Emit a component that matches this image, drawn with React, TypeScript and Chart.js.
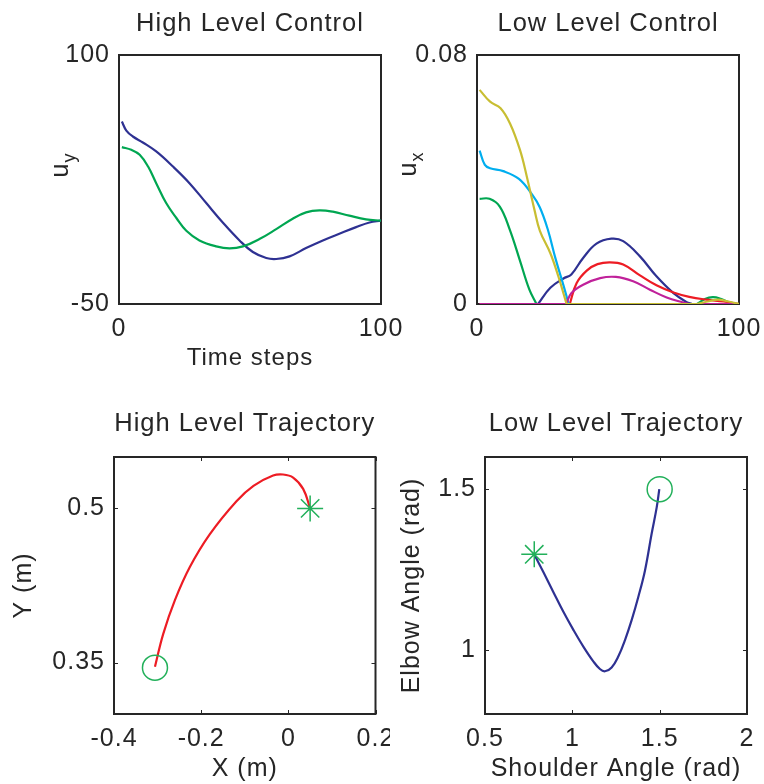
import React, { useEffect, useRef } from "react";
import { Chart, registerables } from "chart.js";
Chart.register(...registerables);

const FONT = '"Liberation Sans", Arial, Helvetica, sans-serif';
const TEXT = "#262626";
const BLUE = "#2e3192";
const GREEN = "#00a651";
const RED = "#ed1c24";
const CYAN = "#00aeef";
const MAGENTA = "#c0219a";
const OLIVE = "#c8be32";
const MARK = "#22b05a";

// ---------- High Level Control ----------
const hlcXTicks = [0, 100];
const hlcYTicks = [-50, 100];
const hlcBlue: number[][] = [
  [1.1, 59.9], [2.8, 54.5], [5.3, 50.9], [9.1, 47.3], [14.2, 41.9], [20.6, 32.8],
  [26.9, 22.8], [33.3, 10.8], [39.6, -0.9], [46, -11.7], [51.1, -18.7],
  [56.2, -22.3], [60, -22.9], [65.1, -21.3], [71.4, -16.3], [77.8, -11.7],
  [84.1, -7.7], [90.5, -3.7], [95.6, -0.9], [100, 0.2],
];
const hlcGreen: number[][] = [
  [1.1, 44.5], [4.7, 42.9], [7.9, 39.9], [11.1, 32.8], [14.2, 22.8], [18, 10.8],
  [21.9, 1.8], [25.7, -5.9], [30.7, -11.7], [37.1, -15.3], [42.2, -16.5],
  [47.3, -15.3], [53.6, -10.9], [60, -4.9], [66.3, 1.4], [71.4, 5.2],
  [76.5, 6.4], [81.6, 5.6], [87.9, 3.2], [94.3, 1], [100, 0.2],
];

// ---------- Low Level Control ----------
const llcXTicks = [0, 100];
const llcYTicks = [0, 0.08];
const llcBlue: number[][] = [
  [1, 0], [23.3, 0], [28, 0.0052], [33, 0.0082], [36, 0.0095], [40.5, 0.0148],
  [45.6, 0.0194], [51.3, 0.021], [55.8, 0.0202], [62.2, 0.0153], [68.5, 0.0089],
  [75, 0.0035], [80, 0.0006], [82, 0], [100, 0],
];
const llcGreen: number[][] = [
  [1, 0.0338], [4.8, 0.0338], [8.7, 0.0313], [12.5, 0.0239], [16.3, 0.0142],
  [20, 0.0046], [22.7, 0], [84, 0], [87, 0.0016], [90, 0.0022], [93, 0.0017],
  [96, 0.0006], [99, 0], [100, 0],
];
const llcRed: number[][] = [
  [1, 0], [35.4, 0], [38, 0.0067], [42, 0.0108], [46, 0.0128], [50.7, 0.0134],
  [55.8, 0.0127], [62.2, 0.0092], [68.5, 0.0060], [75, 0.0037], [81, 0.0023],
  [87.6, 0.0014], [94, 0.0008], [100, 0],
];
const llcCyan: number[][] = [
  [1, 0.0493], [3, 0.0447], [5, 0.0436], [10, 0.0427], [16, 0.0402], [21, 0.0352],
  [24, 0.031], [27, 0.024], [30, 0.0145], [33, 0.006], [35, 0], [100, 0],
];
const llcMagenta: number[][] = [
  [1, 0], [34, 0], [36, 0.0035], [40.5, 0.0062], [47, 0.0083], [53, 0.0087],
  [59.6, 0.0073], [66, 0.0046], [72.4, 0.0021], [78.7, 0.0005], [81, 0], [100, 0],
];
const llcOlive: number[][] = [
  [1, 0.0688], [5, 0.065], [9, 0.0629], [12.6, 0.058], [16.4, 0.0495], [19, 0.041],
  [22, 0.03], [24, 0.0235], [28, 0.0163], [31, 0.009], [34.2, 0], [84, 0],
  [88, 0.0008], [92, 0.0014], [96, 0.0008], [100, 0],
];

// ---------- High Level Trajectory ----------
const hltXTicks = [-0.4, -0.2, 0, 0.2];
const hltXLabels = ["-0.4", "-0.2", "0", "0.2"];
const hltYTicks = [0.35, 0.5];
const hltYLabels = ["0.35", "0.5"];
const hltPath: number[][] = [
  [-0.306, 0.346], [-0.287, 0.378], [-0.26, 0.411], [-0.226, 0.443],
  [-0.18, 0.475], [-0.119, 0.507], [-0.08, 0.522], [-0.035, 0.532],
  [-0.012, 0.533], [0.011, 0.53], [0.034, 0.519], [0.05, 0.5],
];
const hltStart = [-0.306, 0.345];
const hltGoal = [0.05, 0.5];

// ---------- Low Level Trajectory ----------
const lltXTicks = [0.5, 1, 1.5, 2];
const lltXLabels = ["0.5", "1", "1.5", "2"];
const lltYTicks = [1, 1.5];
const lltYLabels = ["1", "1.5"];
const lltPath: number[][] = [
  [0.782, 1.297], [0.834, 1.242], [0.891, 1.18], [0.948, 1.119], [1.006, 1.062],
  [1.063, 1.01], [1.12, 0.964], [1.158, 0.94], [1.187, 0.933], [1.225, 0.945],
  [1.263, 0.979], [1.302, 1.031], [1.34, 1.093], [1.378, 1.165], [1.416, 1.247],
  [1.454, 1.361], [1.483, 1.443], [1.498, 1.5],
];
const lltStart = [1.5, 1.5];
const lltGoal = [0.782, 1.297];

const toXY = (arr: number[][]) => arr.map((p) => ({ x: p[0], y: p[1] }));

const line = (data: number[][], color: string, order: number, tension = 0.4) => ({
  data: toXY(data),
  showLine: true,
  borderColor: color,
  backgroundColor: color,
  borderWidth: 2.2,
  pointRadius: 0,
  tension,
  order,
});

// Split a control series into flat (zero) runs drawn straight and
// non-zero lobes drawn as smooth curves, so the kinks at zero stay sharp.
const pieces = (data: number[][], color: string, order: number) => {
  const out: { pts: number[][]; flat: boolean }[] = [];
  let cur: number[][] = [data[0]];
  let flat: boolean | null = null;
  for (let i = 1; i < data.length; i++) {
    const isFlat = data[i - 1][1] === 0 && data[i][1] === 0;
    if (flat === null) flat = isFlat;
    if (isFlat !== flat) {
      out.push({ pts: cur, flat });
      cur = [data[i - 1]];
      flat = isFlat;
    }
    cur.push(data[i]);
  }
  out.push({ pts: cur, flat: !!flat });
  return out.map((p) => line(p.pts, color, order, p.flat ? 0 : 0.4));
};

const marker = (p: number[], style: string, radius: number) => ({
  data: [{ x: p[0], y: p[1] }],
  showLine: false,
  pointStyle: style,
  pointRadius: radius,
  borderColor: MARK,
  backgroundColor: "rgba(0,0,0,0)",
  pointBorderWidth: 1.5,
  borderWidth: 1.5,
  clip: false,
  order: -1,
});

const spacingPlugin = {
  id: "letterSpacing",
  beforeDraw(chart: any) {
    (chart.ctx as any).letterSpacing = "1px";
  },
};

const boxPlugin = {
  id: "matBox",
  beforeDatasetsDraw(chart: any) {
    const { ctx, chartArea: a, scales } = chart;
    ctx.save();
    ctx.strokeStyle = TEXT;
    ctx.lineWidth = 2;
    ctx.strokeRect(a.left, a.top, a.right - a.left, a.bottom - a.top);
    ctx.lineWidth = 1;
    const len = 4;
    ctx.beginPath();
    for (const t of scales.x.ticks) {
      const px = Math.round(scales.x.getPixelForValue(t.value)) + 0.5;
      ctx.moveTo(px, a.bottom);
      ctx.lineTo(px, a.bottom - len);
      ctx.moveTo(px, a.top);
      ctx.lineTo(px, a.top + len);
    }
    for (const t of scales.y.ticks) {
      const py = Math.round(scales.y.getPixelForValue(t.value)) + 0.5;
      ctx.moveTo(a.left, py);
      ctx.lineTo(a.left + len, py);
      ctx.moveTo(a.right, py);
      ctx.lineTo(a.right - len, py);
    }
    ctx.stroke();
    ctx.restore();
  },
};

const subLabelPlugin = {
  id: "subLabel",
  afterDraw(chart: any, _args: any, o: any) {
    if (!o || !o.main) return;
    const { ctx } = chart;
    ctx.save();
    ctx.fillStyle = TEXT;
    const mainFont = `${o.size}px ${FONT}`;
    const subFont = `${o.subSize}px ${FONT}`;
    ctx.font = mainFont;
    const wMain = ctx.measureText(o.main).width;
    ctx.font = subFont;
    const wSub = ctx.measureText(o.sub).width;
    const total = wMain + wSub;
    ctx.translate(o.x, o.y);
    ctx.rotate(-Math.PI / 2);
    ctx.textAlign = "left";
    ctx.textBaseline = "alphabetic";
    ctx.font = mainFont;
    ctx.fillText(o.main, -total / 2, 0);
    ctx.font = subFont;
    ctx.fillText(o.sub, -total / 2 + wMain, o.subDy);
    ctx.restore();
  },
};

type Spec = {
  canvas: { x: number; y: number; w: number; h: number };
  area: { l: number; t: number; r: number; b: number };
  title: string;
  titlePad: { top: number; bottom: number };
  xRange: [number, number];
  yRange: [number, number];
  xTicks: number[];
  xLabels: string[];
  yTicks: number[];
  yLabels: string[];
  xTitle?: string;
  xTitleSize?: number;
  xTitlePad?: number;
  yTitle?: string;
  yTitlePad?: number;
  sub?: any;
  datasets: any[];
};

function Panel({ spec }: { spec: Spec }) {
  const ref = useRef<HTMLCanvasElement>(null);
  useEffect(() => {
    const s = spec;
    const yWidth = s.area.l - s.canvas.x;
    const xHeight = s.canvas.y + s.canvas.h - s.area.b;
    const rightPad = s.canvas.x + s.canvas.w - s.area.r;
    const tickFont = { family: FONT, size: 25 };
    const chart = new Chart(ref.current as HTMLCanvasElement, {
      type: "scatter",
      data: { datasets: s.datasets },
      plugins: [spacingPlugin, boxPlugin, subLabelPlugin],
      options: {
        animation: false,
        responsive: false,
        events: [],
        layout: { padding: { left: 0, top: 0, bottom: 0, right: rightPad } },
        plugins: {
          legend: { display: false },
          tooltip: { enabled: false },
          title: {
            display: true,
            text: s.title,
            color: TEXT,
            fullSize: false,
            font: { family: FONT, size: 25.5, weight: "normal" },
            padding: s.titlePad,
          },
          subLabel: s.sub || {},
        } as any,
        scales: {
          x: {
            type: "linear",
            min: s.xRange[0],
            max: s.xRange[1],
            grid: { display: false, drawTicks: false },
            border: { display: false },
            afterBuildTicks: (sc: any) => {
              sc.ticks = s.xTicks.map((v) => ({ value: v }));
            },
            afterFit: (sc: any) => {
              sc.height = xHeight;
              sc.paddingLeft = 0;
              sc.paddingRight = 0;
            },
            ticks: {
              autoSkip: false,
              maxRotation: 0,
              padding: 10,
              color: TEXT,
              font: tickFont,
              callback: (v: any) => {
                const i = s.xTicks.indexOf(Number(v));
                return i >= 0 ? s.xLabels[i] : "";
              },
            },
            title: {
              display: !!s.xTitle,
              text: s.xTitle || "",
              color: TEXT,
              font: { family: FONT, size: s.xTitleSize || 25 },
              padding: { top: 0, bottom: s.xTitlePad || 0 },
            },
          },
          y: {
            type: "linear",
            min: s.yRange[0],
            max: s.yRange[1],
            grid: { display: false, drawTicks: false },
            border: { display: false },
            afterBuildTicks: (sc: any) => {
              sc.ticks = s.yTicks.map((v) => ({ value: v }));
            },
            afterFit: (sc: any) => {
              sc.width = yWidth;
              sc.paddingTop = 0;
              sc.paddingBottom = 0;
            },
            ticks: {
              autoSkip: false,
              padding: 9,
              color: TEXT,
              font: tickFont,
              callback: (v: any) => {
                const i = s.yTicks.indexOf(Number(v));
                return i >= 0 ? s.yLabels[i] : "";
              },
            },
            title: {
              display: !!s.yTitle,
              text: s.yTitle || "",
              color: TEXT,
              font: { family: FONT, size: 25 },
              padding: { top: s.yTitlePad || 0, bottom: 0 },
            },
          },
        },
      } as any,
    });
    return () => chart.destroy();
  }, [spec]);
  return (
    <canvas
      ref={ref}
      width={spec.canvas.w}
      height={spec.canvas.h}
      style={{
        position: "absolute",
        left: spec.canvas.x,
        top: spec.canvas.y,
        width: spec.canvas.w,
        height: spec.canvas.h,
      }}
    />
  );
}

const specs: Spec[] = [
  {
    canvas: { x: 0, y: 0, w: 420, h: 380 },
    area: { l: 119, t: 55, r: 381, b: 304 },
    title: "High Level Control",
    titlePad: { top: 8.7, bottom: 15.7 },
    xRange: [0, 100],
    yRange: [-50, 100],
    xTicks: hlcXTicks,
    xLabels: hlcXTicks.map(String),
    yTicks: hlcYTicks,
    yLabels: hlcYTicks.map(String),
    xTitle: "Time steps",
    xTitleSize: 24,
    xTitlePad: 7,
    sub: { main: "u", sub: "y", x: 68, y: 165, size: 25, subSize: 18, subDy: 7 },
    datasets: [line(hlcBlue, BLUE, 1), line(hlcGreen, GREEN, 0)],
  },
  {
    canvas: { x: 390, y: 0, w: 374, h: 380 },
    area: { l: 477, t: 55, r: 739, b: 304 },
    title: "Low Level Control",
    titlePad: { top: 8.7, bottom: 15.7 },
    xRange: [0, 100],
    yRange: [0, 0.08],
    xTicks: llcXTicks,
    xLabels: llcXTicks.map(String),
    yTicks: llcYTicks,
    yLabels: llcYTicks.map(String),
    sub: { main: "u", sub: "x", x: 26, y: 164, size: 25, subSize: 18, subDy: 7 },
    datasets: [
      ...pieces(llcBlue, BLUE, 5),
      ...pieces(llcGreen, GREEN, 4),
      ...pieces(llcRed, RED, 3),
      ...pieces(llcCyan, CYAN, 2),
      ...pieces(llcMagenta, MAGENTA, 1),
      ...pieces(llcOlive, OLIVE, 0),
    ],
  },
  {
    canvas: { x: 0, y: 392, w: 390, h: 392 },
    area: { l: 114, t: 457, r: 376, b: 714 },
    title: "High Level Trajectory",
    titlePad: { top: 16.7, bottom: 17.7 },
    xRange: [-0.4, 0.2],
    yRange: [0.3, 0.55],
    xTicks: hltXTicks,
    xLabels: hltXLabels,
    yTicks: hltYTicks,
    yLabels: hltYLabels,
    xTitle: "X (m)",
    xTitlePad: 0,
    yTitle: "Y (m)",
    yTitlePad: 9,
    datasets: [
      line(hltPath, RED, 1),
      marker(hltStart, "circle", 12.5),
      marker(hltGoal, "star", 13),
    ],
  },
  {
    canvas: { x: 390, y: 392, w: 374, h: 392 },
    area: { l: 485, t: 457, r: 747, b: 714 },
    title: "Low Level Trajectory",
    titlePad: { top: 16.7, bottom: 17.7 },
    xRange: [0.5, 2],
    yRange: [0.8, 1.6],
    xTicks: lltXTicks,
    xLabels: lltXLabels,
    yTicks: lltYTicks,
    yLabels: lltYLabels,
    xTitle: "Shoulder Angle (rad)",
    xTitlePad: 0,
    yTitle: "Elbow Angle (rad)",
    yTitlePad: 6.7,
    datasets: [
      line(lltPath, BLUE, 1),
      marker(lltStart, "circle", 12.5),
      marker(lltGoal, "star", 13),
    ],
  },
];

export default function App() {
  return (
    <div
      style={{
        position: "absolute",
        left: 0,
        top: 0,
        width: 764,
        height: 784,
        background: "#ffffff",
        overflow: "hidden",
      }}
    >
      {specs.map((s, i) => (
        <Panel key={i} spec={s} />
      ))}
    </div>
  );
}
